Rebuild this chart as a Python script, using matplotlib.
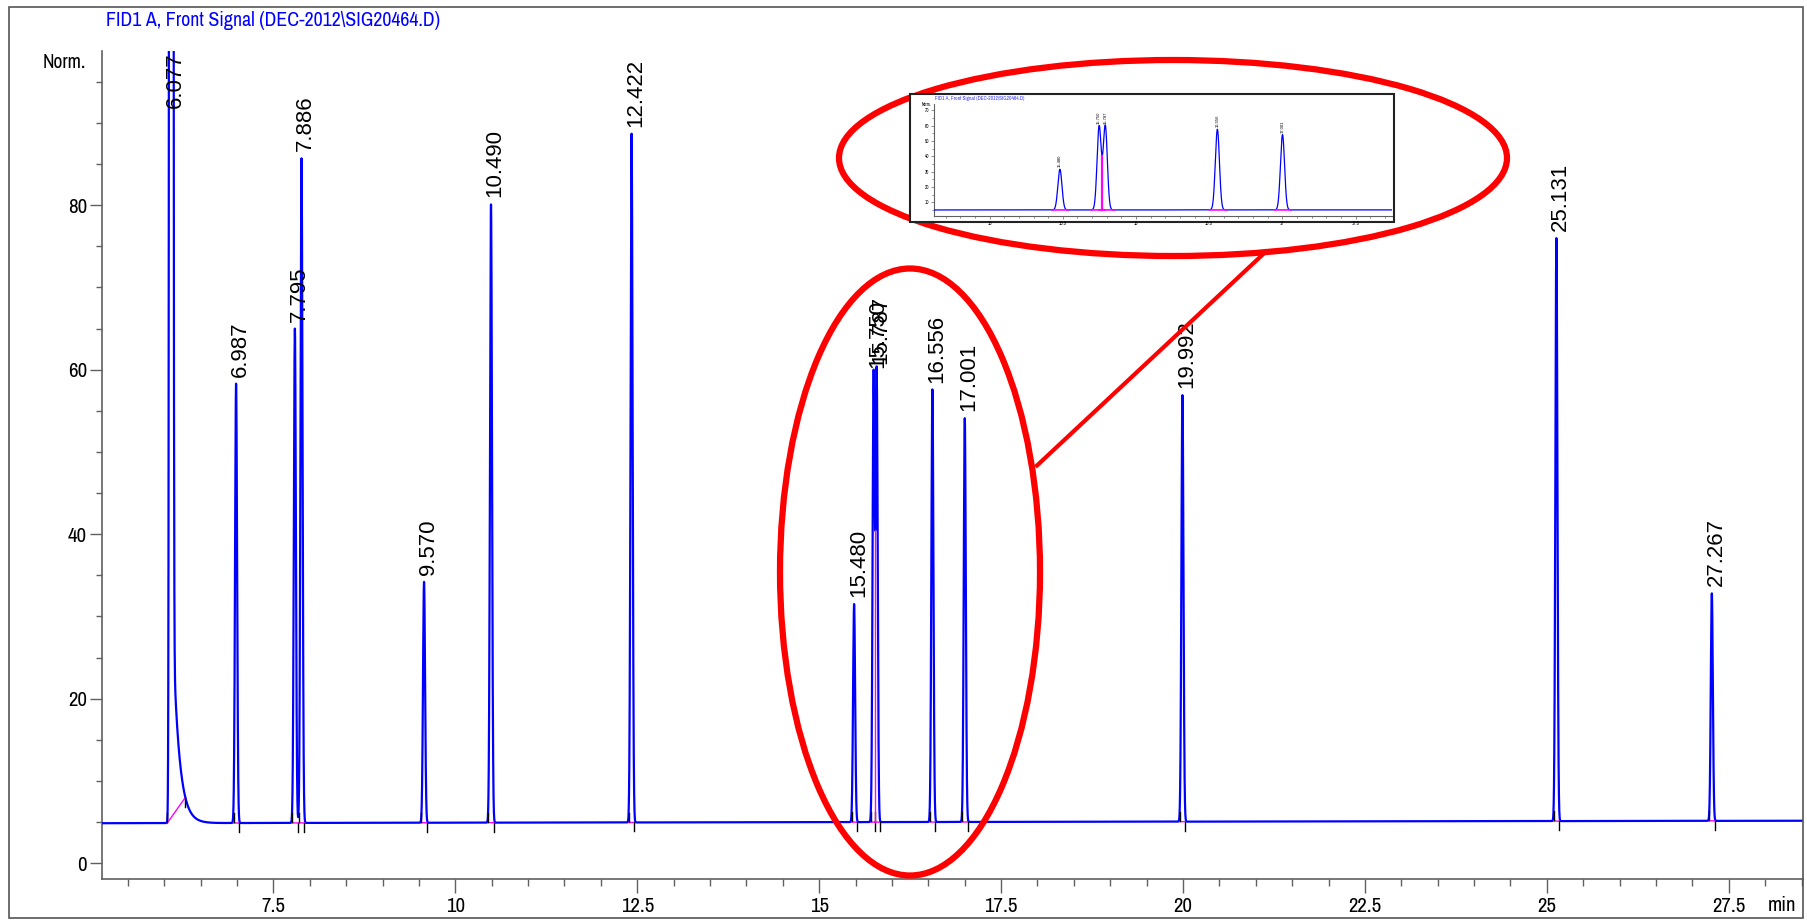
import numpy as np
import matplotlib.pyplot as plt
from matplotlib.patches import Ellipse, Rectangle
from matplotlib.ticker import MultipleLocator, FuncFormatter

# narrow face for axis text, normal Arial-like face for peak labels
plt.rcParams['font.family'] = ['Archivo Narrow', 'DejaVu Sans']
label_family = ['Liberation Sans', 'DejaVu Sans']

# peak table (min, Norm. at apex)
peak_labels = ["6.987", "7.795", "7.886", "9.570", "10.490", "12.422", "15.480",
               "15.750", "15.787", "16.556", "17.001", "19.992", "25.131", "27.267"]
peak_rt = [6.987, 7.795, 7.886, 9.570, 10.490, 12.422, 15.480,
           15.748, 15.790, 16.556, 17.001, 19.992, 25.131, 27.267]
peak_top = [58.3, 65.0, 85.7, 34.2, 80.1, 88.7, 31.5,
            59.4, 59.8, 57.6, 54.1, 56.9, 76.0, 32.8]
peak_sigma = 0.014

# solvent peak, off scale, with a tail
solvent_label = "6.077"
solvent_rt = 6.077
solvent_center = 6.096
solvent_top = 2000.0
solvent_sigma = 0.0132
tail_amp = 18.2      # Norm. above baseline at tail_t0
tail_t0 = 6.14
tail_tau = 0.085
solvent_start, solvent_end = 6.04, 6.29

# baseline drift
t_start, t_end = 5.15, 28.52
base_start, base_end = 4.85, 5.15

title = "FID1 A, Front Signal (DEC-2012\\SIG20464.D)"


def baseline(x):
    return base_start + (base_end - base_start) * (np.asarray(x) - t_start) / (t_end - t_start)


def signal(x):
    x = np.asarray(x, dtype=float)
    y = baseline(x).copy()
    for r, h in zip(peak_rt, peak_top):
        y += (h - baseline(r)) * np.exp(-(x - r) ** 2 / (2 * peak_sigma ** 2))
    y += solvent_top * np.exp(-(x - solvent_center) ** 2 / (2 * solvent_sigma ** 2))
    y += np.where(x >= solvent_center, tail_amp * np.exp(-(x - tail_t0) / tail_tau), 0.0)
    return y


t = np.arange(t_start, t_end, 0.001)
sig = signal(t)

fig = plt.figure(figsize=(18.07, 9.21), dpi=100)
ax = fig.add_axes([0.05667, 0.04528, 0.94112, 0.89972])

ax.plot(t, sig, color='#0000ff', lw=1.6, zorder=3)

# integration baselines and marks
starts = [r - 0.035 for r in peak_rt]
ends = [r + 0.04 for r in peak_rt]
# the close pair shares a drop line
valley_t = (peak_rt[7] + peak_rt[8]) / 2
ends[7] = valley_t
starts[8] = valley_t
for s, e in zip(starts, ends):
    ax.plot([s, e], [baseline(s), baseline(e)], color='#ff00ff', lw=1.0, zorder=4)
    ax.plot([s, s], [baseline(s) + 0.1, baseline(s) + 1.2], color='black', lw=1.0, zorder=4)
    ax.plot([e, e], [baseline(e) - 1.1, baseline(e)], color='black', lw=1.0, zorder=4)
ax.plot([valley_t, valley_t], [baseline(valley_t), signal(valley_t)], color='#ff00ff', lw=1.0, zorder=4)
yend = signal(solvent_end)
ax.plot([solvent_start, solvent_end], [baseline(solvent_start), yend], color='#ff00ff', lw=1.0, zorder=4)
ax.plot([solvent_start] * 2, [baseline(solvent_start) + 0.1, baseline(solvent_start) + 1.2], color='black', lw=1.0, zorder=4)
ax.plot([solvent_end] * 2, [yend - 1.1, yend], color='black', lw=1.0, zorder=4)

# retention time labels
for lab, r, h in zip(peak_labels, peak_rt, peak_top):
    ax.annotate(lab, (r, h), xytext=(3, 5), textcoords='offset points', rotation=90,
                ha='center', va='bottom', fontsize=16, family=label_family, zorder=5)
ymax = 98.8
ax.annotate(solvent_label, (solvent_rt, ymax), xytext=(4, -1), textcoords='offset points',
            rotation=90, ha='center', va='top', fontsize=16, family=label_family, zorder=5)

ax.set_xlim(t_start, t_end)
ax.set_ylim(-1.97, ymax)
for s in ['top', 'right']:
    ax.spines[s].set_visible(False)
for s in ['left', 'bottom']:
    ax.spines[s].set_color('#606060')
    ax.spines[s].set_linewidth(1.2)
ax.xaxis.set_major_locator(MultipleLocator(2.5))
ax.xaxis.set_minor_locator(MultipleLocator(0.5))
ax.xaxis.set_major_formatter(FuncFormatter(lambda v, p: '%g' % v))
ax.yaxis.set_major_locator(MultipleLocator(20))
ax.yaxis.set_minor_locator(MultipleLocator(5))
ax.tick_params(axis='x', which='major', length=10, width=1, color='#606060', pad=3, labelsize=15)
ax.tick_params(axis='x', which='minor', length=5, width=1, color='#606060')
ax.tick_params(axis='y', which='major', length=9, width=1, color='#606060', pad=2, labelsize=15)
ax.tick_params(axis='y', which='minor', length=4, width=1, color='#606060')

# overlay in pixel coordinates
ov = fig.add_axes([0, 0, 1, 1])
ov.set_xlim(0, 1807)
ov.set_ylim(921, 0)
ov.axis('off')
ov.set_zorder(2)

ov.add_patch(Rectangle((9, 7), 1794, 911, fill=False, edgecolor='#555555', lw=1.2))
ov.text(106, 21, title, color='#0000ff', fontsize=14.3, ha='left', va='center')
ov.text(86, 62, "Norm.", fontsize=14, ha='right', va='center')
ov.text(1768, 905, "min", fontsize=15, ha='left', va='center')

ov.add_patch(Ellipse((1173, 158), 668, 196, fill=False, edgecolor='red', lw=4.5, zorder=3))
ov.add_patch(Ellipse((910, 572), 260, 607, fill=False, edgecolor='red', lw=4.5, zorder=3))
ov.plot([1037, 1265], [465.5, 252.4], color='red', lw=3.0, zorder=3)

ov.add_patch(Rectangle((910, 94.5), 484, 127.5, facecolor='white', edgecolor='#222222', lw=1.5, zorder=5))
ov.text(935, 98.5, title, color='#3333ff', fontsize=3.8, ha='left', va='center', zorder=6)
ov.text(931, 105, "Norm.", fontsize=3.2, ha='right', va='center', zorder=6)

# zoomed inset of the 15-17.5 min region
ins = fig.add_axes([0.5169, 0.7652, 0.2535, 0.1223])
ins.set_zorder(3)
ti = np.arange(14.62, 17.75, 0.0005)
ins.plot(ti, signal(ti), color='#0000ff', lw=0.9, zorder=3)
for s, e in zip(starts, ends):
    if 14.62 < s < 17.75:
        ins.plot([s - 0.02, e + 0.02], [baseline(s), baseline(e)], color='#ff00ff', lw=1.2, zorder=4)
ins.plot([valley_t, valley_t], [baseline(valley_t), signal(valley_t)], color='#ff00ff', lw=1.6, zorder=4)
for lab, r, h in zip(peak_labels, peak_rt, peak_top):
    if 14.62 < r < 17.75:
        ins.annotate(lab, (r, h), xytext=(0, 1.5), textcoords='offset points', rotation=90,
                     ha='center', va='bottom', fontsize=3, family=label_family, zorder=5)
ins.set_xlim(14.62, 17.75)
ins.set_ylim(0.87, 74.3)
for s in ['top', 'right']:
    ins.spines[s].set_visible(False)
for s in ['left', 'bottom']:
    ins.spines[s].set_color('#606060')
    ins.spines[s].set_linewidth(0.8)
ins.xaxis.set_major_locator(MultipleLocator(0.5))
ins.xaxis.set_minor_locator(MultipleLocator(0.1))
ins.xaxis.set_major_formatter(FuncFormatter(lambda v, p: '%g' % v))
ins.yaxis.set_major_locator(MultipleLocator(10))
ins.yaxis.set_minor_locator(MultipleLocator(5))
ins.yaxis.set_major_formatter(FuncFormatter(lambda v, p: '%g' % v))
ins.tick_params(which='major', length=2.5, width=0.5, color='#606060', pad=1, labelsize=3.5)
ins.tick_params(which='minor', length=1.2, width=0.5, color='#606060')

fig.savefig('out.png', dpi=100)
